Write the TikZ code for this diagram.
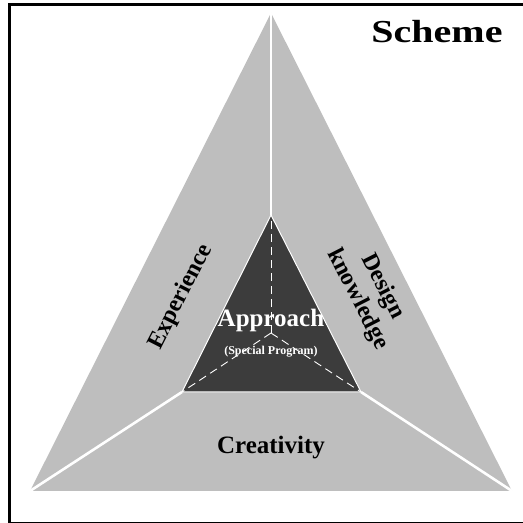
\documentclass[tikz,border=0pt]{standalone}
\usepackage{fontspec}
\setmainfont{Liberation Serif}
\definecolor{lightgr}{HTML}{BEBEBE}
\definecolor{darkgr}{HTML}{3C3C3C}
\begin{document}
\begin{tikzpicture}[x=1pt,y=1pt,
  sep/.style={draw=white,line width=2.6pt},
  lbl/.style={inner sep=0pt,font=\bfseries\fontsize{24}{28}\selectfont,text=black},
  dashln/.style={draw=white,line width=0.9pt,dash pattern=on 8pt off 5pt}]
\useasboundingbox (0,0) rectangle (523,523);
\coordinate (A) at (271,510);
\coordinate (B) at (30,32);
\coordinate (C) at (512,32);
\coordinate (a) at (271,308);
\coordinate (b) at (182,131);
\coordinate (c) at (361,131);
\coordinate (o) at (271,190);
\draw[line width=3pt] (9.5,-0.3) rectangle (528,518.5);
\fill[lightgr] (A) -- (B) -- (C) -- cycle;
\draw[sep] (A) -- (a);
\draw[sep] (B) -- (b);
\draw[sep] (C) -- (c);
\filldraw[fill=darkgr,draw=white,line width=1pt] (a) -- (b) -- (c) -- cycle;
\draw[dashln] (o) -- (a);
\draw[dashln] (o) -- (b);
\draw[dashln] (o) -- (c);
\node[lbl,font=\bfseries\fontsize{32}{36}\selectfont,xscale=1.25] (scheme) at (437,491) {Scheme};
\node[lbl,rotate=63] (exp) at (181,226) {Experience};
\node[lbl,rotate=-63,align=center] (dk) at (370,230) {Design\\knowledge};
\node[lbl,text=white,font=\bfseries\fontsize{25}{28}\selectfont] (appr) at (271,203) {Approach};
\node[lbl,text=white,font=\bfseries\fontsize{12}{14}\selectfont] (sp) at (271,171) {(Special Program)};
\node[lbl,font=\bfseries\fontsize{25}{28}\selectfont] (crea) at (271,75) {Creativity};
\end{tikzpicture}
\end{document}
